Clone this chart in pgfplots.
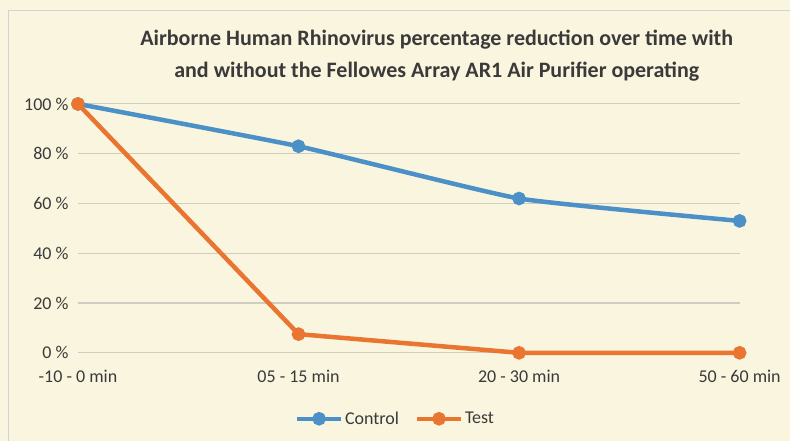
\documentclass[border=0pt]{standalone}
\usepackage{pgfplots}
\pgfplotsset{compat=1.18}
\usepackage{fontspec}
\setmainfont{Carlito}
\definecolor{paper}{HTML}{FAF5DE}
\definecolor{ctrl}{HTML}{4B90C6}
\definecolor{tst}{HTML}{EA7530}
\definecolor{gridc}{HTML}{CFCCC0}
\definecolor{txt}{HTML}{3A3A3A}
\begin{document}
\begin{tikzpicture}
\fill[paper] (0pt,0pt) rectangle (790pt,441pt);
\draw[gray!35,line width=0.8pt] (8pt,0pt) -- (8pt,431pt) -- (790pt,431pt);
\node[font=\fontsize{22}{32}\selectfont\bfseries, text=txt, align=center] at (437pt,385pt)
  {Airborne Human Rhinovirus percentage reduction over time with\\and without the Fellowes Array AR1 Air Purifier operating};
\begin{axis}[
  at={(78pt,88pt)}, anchor=south west,
  scale only axis, width=662pt, height=249pt,
  xmin=0, xmax=3, ymin=0, ymax=100,
  clip=false,
  axis line style={draw=none},
  tick style={draw=none},
  ymajorgrids, grid style={gridc, line width=1.1pt},
  ytick={0,20,40,60,80,100},
  yticklabels={0 \%,20 \%,40 \%,60 \%,80 \%,100 \%},
  xtick={0,1,2,3},
  xticklabels={-10 - 0 min,05 - 15 min,20 - 30 min,50 - 60 min},
  ticklabel style={font=\fontsize{18}{20}\selectfont, text=txt},
  yticklabel style={xshift=-6pt},
  xticklabel style={yshift=-14pt},
  legend style={at={(0.48,-0.22)}, anchor=north, draw=none, fill=none,
    legend columns=2, font=\fontsize{18}{20}\selectfont, text=txt,
    /tikz/every even column/.append style={column sep=14pt}},
  legend image code/.code={
    \draw[#1, line width=4pt] (0pt,0pt) -- (44pt,0pt);
    \fill[#1] (22pt,0pt) circle (4.5pt);},
]
\addplot[ctrl, line width=4.5pt, mark=*, mark size=4.5pt, smooth, tension=0.25] coordinates {(0,100) (1,83) (2,62) (3,53)};
\addlegendentry{Control}
\addplot[tst, line width=4.5pt, mark=*, mark size=4.5pt] coordinates {(0,100) (1,7.5) (2,0) (3,0)};
\addlegendentry{Test}
\end{axis}
\end{tikzpicture}
\end{document}
